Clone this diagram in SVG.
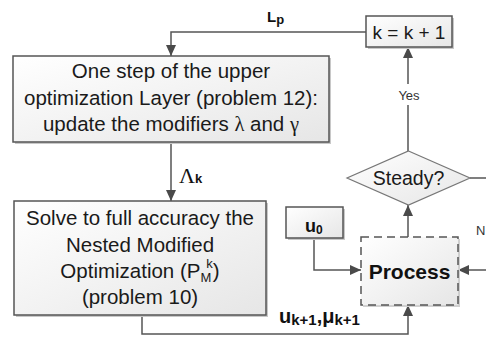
<svg xmlns="http://www.w3.org/2000/svg" width="486" height="339" viewBox="0 0 486 339">
<defs>
<linearGradient id="g" x1="0" y1="0" x2="1" y2="1">
<stop offset="0" stop-color="#ffffff"/>
<stop offset="1" stop-color="#e6e6e6"/>
</linearGradient>
<marker id="ah" markerUnits="userSpaceOnUse" markerWidth="12" markerHeight="10" refX="11" refY="5" orient="auto">
<path d="M0,0 L11,5 L0,10 z" fill="#4a4a4a"/>
</marker>
</defs>
<style>
.box{fill:url(#g);stroke:#555;stroke-width:1.5}
.sh{fill:#c8c8c8}
.t{font-family:"Liberation Sans",Arial,sans-serif;font-size:20.5px;fill:#1a1a1a;text-anchor:middle}
.b{font-family:"Liberation Sans",Arial,sans-serif;font-weight:bold;fill:#111}
.ln{fill:none;stroke:#555;stroke-width:1.5}
.arr{fill:none;stroke:#555;stroke-width:1.5;marker-end:url(#ah)}
.gr{font-family:"Liberation Serif",serif}
</style>
<rect width="486" height="339" fill="#fff"/>

<g id="connectors">
<polyline class="arr" points="366,32 171,32 171,56"/>
<polyline class="arr" points="171,142 171,201"/>
<polyline class="arr" points="142,315 142,334 408,334 408,305"/>
<polyline class="arr" points="314,238 314,270 361,270"/>
<polyline class="arr" points="486,270 458,270"/>
<polyline class="arr" points="408,237 408,205"/>
<polyline class="arr" points="408,151 408,47"/>
<polyline class="ln" points="470,178 486,178"/>
<rect x="399" y="84" width="20" height="21" fill="#fff"/>
<text x="409" y="100" style="font-family:'Liberation Sans',Arial,sans-serif;font-size:13px;fill:#333;text-anchor:middle">Yes</text>
<text x="476" y="235" style="font-family:'Liberation Sans',Arial,sans-serif;font-size:13px;fill:#333">N</text>
<text x="267" y="22" class="b" style="font-size:15px">L<tspan dy="2" font-size="13">p</tspan></text>
<text x="179" y="183" style="font-family:'Liberation Serif',serif;font-size:22px;fill:#111">Λ<tspan class="b" font-size="13" dy="0">k</tspan></text>
<text x="279" y="323" class="b" style="font-size:20px">u<tspan font-size="15" dy="2">k+1</tspan><tspan dy="-2">,μ</tspan><tspan font-size="15" dy="2">k+1</tspan></text>
</g>

<g id="node-upper">
<rect class="sh" x="15" y="58" width="316" height="86"/>
<rect class="box" x="13" y="56" width="316" height="86"/>
<text class="t" x="171" y="78">One step of the upper</text>
<text class="t" x="171" y="104.5">optimization Layer (problem 12):</text>
<text class="t" x="171" y="131">update the modifiers <tspan class="gr">λ</tspan> and <tspan class="gr">γ</tspan></text>
</g>

<g id="node-solve">
<rect class="sh" x="16" y="203" width="252" height="114"/>
<rect class="box" x="14" y="201" width="252" height="114"/>
<text class="t" x="140" y="225">Solve to full accuracy the</text>
<text class="t" x="140" y="252">Nested Modified</text>
<text class="t" x="140" y="278">Optimization (P<tspan font-size="13" dy="4">M</tspan><tspan font-size="13" dx="-5" dy="-14">k</tspan><tspan dy="10">)</tspan></text>
<text class="t" x="140" y="304">(problem 10)</text>
</g>

<g id="node-k">
<rect class="sh" x="368" y="18" width="86" height="31"/>
<rect class="box" x="366" y="16" width="86" height="31"/>
<text class="t" x="409" y="39" style="font-size:19px">k = k + 1</text>
</g>

<g id="node-steady">
<polygon points="408.5,151 470,178 408.5,205 347,178" fill="url(#g)" stroke="#777" stroke-width="1.2"/>
<text class="t" x="408.5" y="185" style="font-size:19.5px">Steady?</text>
</g>

<g id="node-u0">
<rect class="sh" x="288" y="209" width="57" height="31"/>
<rect class="box" x="286" y="207" width="57" height="31"/>
<text x="305" y="232" class="b" style="font-size:18px">u<tspan font-size="12" dy="2">0</tspan></text>
</g>

<g id="node-process">
<rect x="363" y="239" width="97" height="68" fill="#d0d0d0"/>
<rect x="361" y="237" width="97" height="68" fill="url(#g)" stroke="#555" stroke-width="1.5" stroke-dasharray="8,5"/>
<text x="409.5" y="279" class="b" style="font-size:21px;text-anchor:middle">Process</text>
</g>
</svg>
